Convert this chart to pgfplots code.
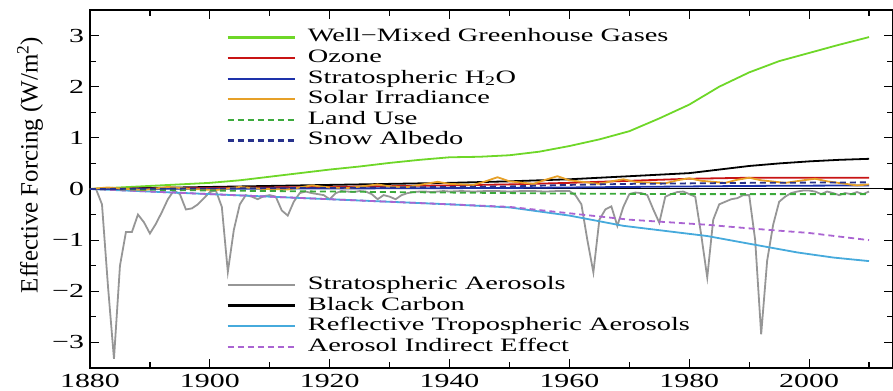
\documentclass[border=0pt]{standalone}
\usepackage{pgfplots}
\pgfplotsset{compat=1.18}
\usepackage{fontspec}
\setmainfont{Liberation Serif}
\newfontfamily\widefont[FakeStretch=1.5]{Liberation Serif}
\definecolor{wmgg}{RGB}{110,215,40}
\definecolor{ozone}{RGB}{200,20,20}
\definecolor{htwoo}{RGB}{30,50,170}
\definecolor{solar}{RGB}{230,160,40}
\definecolor{landuse}{RGB}{60,170,60}
\definecolor{snow}{RGB}{40,50,140}
\definecolor{strat}{RGB}{150,150,150}
\definecolor{refl}{RGB}{70,170,220}
\definecolor{aie}{RGB}{170,100,210}
\pgfplotsset{
  base/.style={
    width=803bp, height=358bp, scale only axis,
    xmin=1880, xmax=2014, ymin=-3.5, ymax=3.5,
  },
  mylegend/.style={
    legend cell align=left,
    legend image code/.code={\draw[##1, line width=2.2bp] (0bp,0bp) -- (67bp,0bp);},
    legend style={draw=none, fill=none, inner sep=0pt, outer sep=0pt,
      font=\widefont\fontsize{19}{19}\selectfont,
      nodes={inner sep=0pt, text height=13bp, text depth=4bp},
      row sep=3.6bp, column sep=12bp},
  },
  dsh/.style={dash pattern=on 6bp off 4bp},
  every axis plot/.append style={line width=1.8bp},
}
\begin{document}
\begin{tikzpicture}
\begin{axis}[base, name=ax, mylegend,
  legend style={at={(axis cs:1902.8,3.13)}, anchor=north west},
  axis line style={black, line width=1.2bp},
  every tick/.style={black, line width=1.2bp},
  major tick length=9bp, minor tick length=6bp,
  xtick={1880,1900,1920,1940,1960,1980,2000},
  xticklabels={1880,1900,1920,1940,1960,1980,2000},
  minor xtick={1890,1910,1930,1950,1970,1990,2010},
  ytick={-3,-2,-1,0,1,2,3},
  yticklabels={−3,−2,−1,0,1,2,3},
  minor ytick={-3.5,-2.5,-1.5,-0.5,0.5,1.5,2.5},
  xticklabel style={font=\widefont\fontsize{20}{20}\selectfont, yshift=-3bp},
  yticklabel style={font=\widefont\fontsize{20}{20}\selectfont, xshift=-2.5bp},
  ylabel={Effective Forcing (W/m\textsuperscript{2})},
  ylabel style={font=\fontsize{25}{25}\selectfont, at={(axis description cs:-0.0747,0.567)}, anchor=center},
  extra y ticks={0}, extra y tick labels={},
  extra y tick style={grid=major, major grid style={black, line width=1bp}, major tick length=0pt},
]
% Stratospheric aerosols
\addplot[strat, forget plot] coordinates {
(1880,0) (1881,0) (1882,-0.3) (1883,-1.9) (1884,-3.32) (1885,-1.5) (1886,-0.84) (1887,-0.84) (1888,-0.5) (1889,-0.65)
(1890,-0.87) (1891,-0.68) (1892,-0.45) (1893,-0.2) (1894,-0.03) (1895,-0.1) (1896,-0.4) (1897,-0.38) (1898,-0.3) (1899,-0.18)
(1900,-0.06) (1901,-0.03) (1902,-0.35) (1903,-1.62) (1904,-0.8) (1905,-0.3) (1906,-0.12) (1907,-0.15) (1908,-0.2) (1909,-0.14)
(1910,-0.12) (1911,-0.15) (1912,-0.42) (1913,-0.52) (1914,-0.25) (1915,-0.08) (1916,-0.05) (1917,-0.08) (1918,-0.1) (1919,-0.12)
(1920,-0.2) (1921,-0.08) (1922,-0.04) (1923,-0.05) (1924,-0.06) (1925,-0.04) (1926,-0.05) (1927,-0.1) (1928,-0.2) (1929,-0.12)
(1930,-0.15) (1931,-0.2) (1932,-0.12) (1933,-0.08) (1934,-0.06) (1935,-0.05) (1936,-0.05) (1937,-0.06) (1938,-0.05) (1939,-0.04)
(1940,-0.05) (1942,-0.04) (1944,-0.05) (1946,-0.04) (1948,-0.04) (1950,-0.05) (1952,-0.04) (1954,-0.04) (1956,-0.05) (1958,-0.04)
(1960,-0.04) (1961,-0.12) (1962,-0.3) (1963,-1.0) (1964,-1.63) (1965,-0.6) (1966,-0.4) (1967,-0.34) (1968,-0.72) (1969,-0.35)
(1970,-0.1) (1971,-0.07) (1972,-0.08) (1973,-0.12) (1974,-0.4) (1975,-0.66) (1976,-0.15) (1977,-0.1) (1978,-0.06) (1979,-0.05)
(1980,-0.1) (1981,-0.15) (1982,-0.9) (1983,-1.73) (1984,-0.6) (1985,-0.3) (1986,-0.25) (1987,-0.2) (1988,-0.18) (1989,-0.12)
(1990,-0.12) (1991,-1.0) (1992,-2.84) (1993,-1.4) (1994,-0.7) (1995,-0.25) (1996,-0.15) (1997,-0.08) (1998,-0.05) (1999,-0.03)
(2000,-0.03) (2001,-0.05) (2002,-0.1) (2003,-0.05) (2004,-0.08) (2005,-0.12) (2006,-0.08) (2007,-0.1) (2008,-0.06) (2009,-0.1) (2010,-0.05)
};
% Reflective tropospheric aerosols
\addplot[refl, forget plot] coordinates {
(1880,0) (1890,-0.05) (1900,-0.1) (1910,-0.15) (1920,-0.2) (1930,-0.25) (1940,-0.3) (1950,-0.36)
(1960,-0.52) (1969,-0.72) (1983,-0.92) (1990,-1.07) (1998,-1.24) (2004,-1.34) (2010,-1.41)
};
% Aerosol indirect effect
\addplot[aie, dsh, forget plot] coordinates {
(1880,0) (1900,-0.1) (1920,-0.2) (1940,-0.3) (1950,-0.35) (1962,-0.5) (1970,-0.6) (1983,-0.7)
(1990,-0.77) (2000,-0.86) (2010,-1.0)
};
% Black carbon
\addplot[black, forget plot] coordinates {
(1880,0) (1890,0.02) (1900,0.04) (1910,0.06) (1920,0.08) (1930,0.1) (1940,0.12) (1950,0.15)
(1960,0.19) (1970,0.25) (1980,0.31) (1985,0.38) (1990,0.45) (1995,0.5) (2000,0.54) (2005,0.57) (2010,0.59)
};
% Well-mixed greenhouse gases
\addplot[wmgg] coordinates {
(1880,0) (1885,0.03) (1890,0.06) (1895,0.09) (1900,0.12) (1905,0.17) (1910,0.24) (1915,0.31) (1920,0.38)
(1925,0.44) (1930,0.51) (1935,0.57) (1940,0.62) (1945,0.63) (1950,0.66) (1955,0.73) (1960,0.84) (1965,0.97)
(1970,1.13) (1975,1.38) (1980,1.65) (1985,2.0) (1990,2.28) (1995,2.5) (2000,2.66) (2005,2.82) (2010,2.97)
};
\addlegendentry{Well−Mixed Greenhouse Gases}
% Ozone
\addplot[ozone] coordinates {
(1880,0) (1900,0.02) (1920,0.04) (1940,0.07) (1950,0.09) (1960,0.12) (1970,0.16) (1980,0.2) (1990,0.22) (2000,0.22) (2010,0.22)
};
\addlegendentry{Ozone}
% Stratospheric H2O
\addplot[htwoo] coordinates {
(1880,0) (1920,0.01) (1950,0.02) (1970,0.04) (1990,0.06) (2010,0.07)
};
\addlegendentry{Stratospheric H\textsubscript{2}O}
% Solar irradiance
\addplot[solar] coordinates {
(1880,0.0) (1883,0.03) (1886,0.0) (1889,-0.02) (1893,0.04) (1897,0.0) (1901,-0.02) (1905,0.04) (1909,0.0)
(1913,-0.01) (1917,0.07) (1920,0.03) (1923,0.02) (1926,0.06) (1928,0.09) (1930,0.05) (1933,0.04) (1936,0.1)
(1938,0.14) (1940,0.1) (1944,0.08) (1946,0.15) (1948,0.23) (1950,0.15) (1954,0.1) (1956,0.18) (1958,0.25)
(1960,0.17) (1965,0.1) (1967,0.15) (1969,0.19) (1971,0.14) (1976,0.11) (1978,0.17) (1980,0.21) (1982,0.16)
(1986,0.12) (1988,0.18) (1990,0.22) (1992,0.17) (1996,0.12) (1999,0.17) (2001,0.2) (2003,0.15) (2008,0.07) (2010,0.09)
};
\addlegendentry{Solar Irradiance}
% Land use
\addplot[landuse, dsh] coordinates {
(1880,0) (1900,-0.03) (1920,-0.05) (1940,-0.07) (1960,-0.09) (1980,-0.1) (2010,-0.1)
};
\addlegendentry{Land Use}
% Snow albedo
\addplot[snow, dsh] coordinates {
(1880,0) (1920,0.02) (1950,0.05) (1960,0.08) (1970,0.1) (1990,0.12) (2010,0.13)
};
\addlegendentry{Snow Albedo}
\end{axis}
\begin{axis}[base, hide axis, mylegend,
  legend style={at={(axis cs:1902.8,-1.71)}, anchor=north west}]
\addlegendimage{strat}
\addlegendentry{Stratospheric Aerosols}
\addlegendimage{black}
\addlegendentry{Black Carbon}
\addlegendimage{refl}
\addlegendentry{Reflective Tropospheric Aerosols}
\addlegendimage{aie, dsh}
\addlegendentry{Aerosol Indirect Effect}
\end{axis}
\pgfresetboundingbox
\path ([shift={(-90bp,-23bp)}]ax.south west) rectangle ([shift={(0bp,10bp)}]ax.north east);
\end{tikzpicture}
\end{document}
